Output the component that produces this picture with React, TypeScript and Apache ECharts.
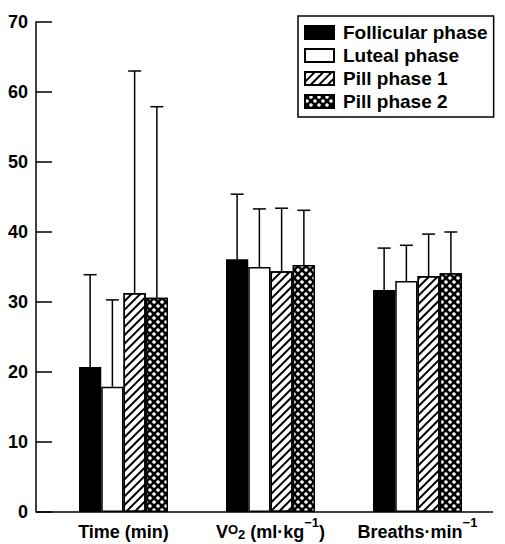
import React, { useEffect, useRef } from 'react';
import * as echarts from 'echarts';

const categories = ['Time (min)', 'Vo2 (ml·kg−1)', 'Breaths·min−1'];
const seriesNames = ['Follicular phase', 'Luteal phase', 'Pill phase 1', 'Pill phase 2'];

const follicularMean = [20.7, 36.1, 31.7];
const follicularSD = [13.2, 9.3, 6.0];
const lutealMean = [17.9, 35.0, 33.0];
const lutealSD = [12.4, 8.3, 5.1];
const pill1Mean = [31.3, 34.4, 33.7];
const pill1SD = [31.7, 9.0, 6.0];
const pill2Mean = [30.6, 35.3, 34.1];
const pill2SD = [27.3, 7.8, 5.9];

const yMin = 0;
const yMax = 70;
const yInterval = 10;

const BAR_W = 22.25;
const CAP_W = 13;
const FONT = '"Liberation Sans", Arial, Helvetica, sans-serif';

const richLabels: Record<string, string> = {
  'Time (min)': '{n|Time (min)}',
  'Vo2 (ml·kg−1)': '{n|V}{o|O}{sub|2}{n| (ml·kg}{sup|−1}{n|)}',
  'Breaths·min−1': '{n|Breaths·min}{sup|−1}',
};

export default function App() {
  const ref = useRef<HTMLDivElement>(null);
  useEffect(() => {
    document.body.style.margin = '0';
    if (!ref.current) return;
    const chart = echarts.init(ref.current, undefined, { renderer: 'svg' });

    const means = [follicularMean, lutealMean, pill1Mean, pill2Mean];
    const sds = [follicularSD, lutealSD, pill1SD, pill2SD];

    const hatch = {
      symbol: 'rect',
      symbolSize: 1,
      color: '#000',
      dashArrayX: [1, 0],
      dashArrayY: [1.6, 3.4],
      rotation: -Math.PI / 4,
    };
    const dots = {
      symbol: 'circle',
      symbolSize: 0.9,
      color: '#fff',
      dashArrayX: [[3.5, 3.5], [0, 3.5, 3.5, 0]],
      dashArrayY: [3.5, 0],
      rotation: 0,
    };

    const styles: any[] = [
      { color: '#000', borderColor: '#000', borderWidth: 1.5 },
      { color: '#fff', borderColor: '#000', borderWidth: 1.5 },
      { color: '#fff', borderColor: '#000', borderWidth: 1.5, decal: hatch },
      { color: '#000', borderColor: '#000', borderWidth: 1.5, decal: dots },
    ];

    const barSeries = seriesNames.map((name, i) => ({
      type: 'bar',
      name,
      data: means[i],
      barWidth: BAR_W,
      barGap: '0%',
      itemStyle: styles[i],
      emphasis: { disabled: true },
    }));

    const errData: number[][] = [];
    for (let s = 0; s < 4; s++) {
      for (let c = 0; c < categories.length; c++) {
        errData.push([c, means[s][c], sds[s][c], s]);
      }
    }

    const errSeries = {
      type: 'custom',
      data: errData,
      z: 5,
      encode: { x: 0, y: 1 },
      renderItem: (params: any, api: any) => {
        const c = api.value(0);
        const m = api.value(1);
        const sd = api.value(2);
        const s = api.value(3);
        const base = api.coord([c, m]);
        const top = api.coord([c, m + sd]);
        const x = base[0] + (s - 1.5) * BAR_W;
        const st = { stroke: '#000', lineWidth: 1.5 };
        return {
          type: 'group',
          children: [
            { type: 'line', shape: { x1: x, y1: base[1], x2: x, y2: top[1] }, style: st },
            { type: 'line', shape: { x1: x - CAP_W / 2, y1: top[1], x2: x + CAP_W / 2, y2: top[1] }, style: st },
          ],
        };
      },
    };

    chart.setOption({
      animation: false,
      grid: { left: 50, right: 14, top: 22, bottom: 32 },
      legend: {
        data: seriesNames,
        orient: 'vertical',
        left: 298,
        top: 16,
        padding: [7, 6, 6, 6],
        itemGap: 4,
        itemWidth: 29,
        itemHeight: 13,
        borderColor: '#000',
        borderWidth: 1.5,
        icon: 'rect',
        selectedMode: false,
        textStyle: { fontSize: 19, fontWeight: 'bold', color: '#000', fontFamily: FONT, padding: [0, 0, 0, 4] },
      },
      xAxis: {
        type: 'category',
        data: categories,
        axisLine: { show: false },
        axisTick: { show: false },
        axisLabel: {
          interval: 0,
          margin: 3,
          color: '#000',
          fontFamily: FONT,
          formatter: (v: string) => richLabels[v] || v,
          rich: {
            n: { fontSize: 18, fontWeight: 'bold', lineHeight: 26, verticalAlign: 'bottom', color: '#000', fontFamily: FONT },
            o: { fontSize: 13, fontWeight: 'bold', lineHeight: 13, padding: [0, 0, 5, 0], verticalAlign: 'bottom', color: '#000', fontFamily: FONT },
            sub: { fontSize: 13, fontWeight: 'bold', lineHeight: 13, verticalAlign: 'bottom', color: '#000', fontFamily: FONT },
            sup: { fontSize: 13, fontWeight: 'bold', lineHeight: 13, padding: [1, 0, 0, 0], verticalAlign: 'top', color: '#000', fontFamily: FONT },
          },
        },
      },
      yAxis: {
        type: 'value',
        min: yMin,
        max: yMax,
        interval: yInterval,
        offset: 14,
        splitLine: { show: false },
        axisLine: { show: true, lineStyle: { color: '#000', width: 1.5 } },
        axisTick: { show: true, inside: true, length: 16, lineStyle: { color: '#000', width: 1.5 } },
        axisLabel: { margin: 8, fontSize: 18, fontWeight: 'bold', color: '#000', fontFamily: FONT },
      },
      graphic: [
        {
          type: 'line',
          shape: { x1: 36, y1: 512, x2: 493, y2: 512 },
          style: { stroke: '#000', lineWidth: 1.5 },
          z: 10,
        },
      ],
      series: [...barSeries, errSeries],
    });

    return () => chart.dispose();
  }, []);

  return <div ref={ref} style={{ width: 505, height: 544 }} />;
}
